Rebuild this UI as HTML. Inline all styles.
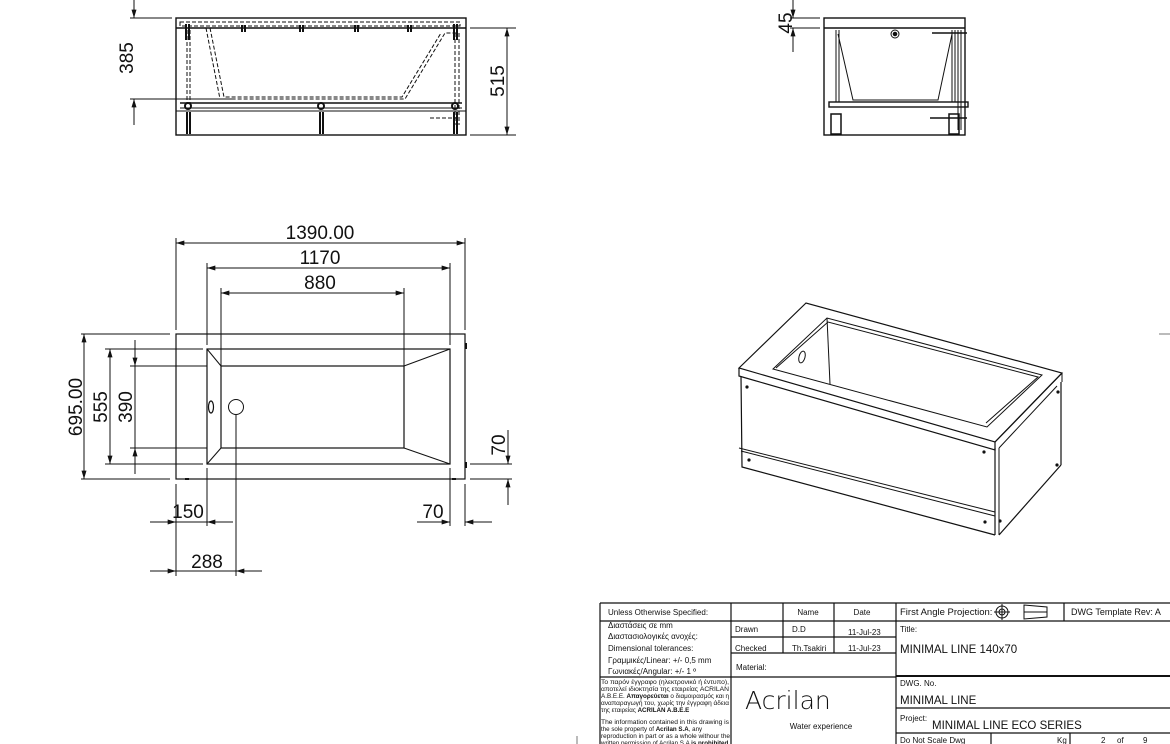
<!DOCTYPE html>
<html><head><meta charset="utf-8"><style>
html,body{margin:0;padding:0;background:#fff;width:1170px;height:744px;overflow:hidden}
svg{display:block}
text{font-family:"Liberation Sans","DejaVu Sans",sans-serif;fill:#111}
.d{font-size:19px}
.s{font-size:8px}
.t{font-size:6.2px}
.b{font-size:11.5px}
</style></head><body>
<svg width="1170" height="744" viewBox="0 0 1170 744" xmlns="http://www.w3.org/2000/svg">
<defs>
<marker id="a" viewBox="0 0 10 6" refX="10" refY="3" markerWidth="12" markerHeight="5" orient="auto-start-reverse" markerUnits="userSpaceOnUse"><path d="M0,0L10,3L0,6z" fill="#111"/></marker>
</defs>
<g stroke="#111" fill="none" stroke-width="1">
<rect x="176" y="18" width="290" height="117" stroke-width="1.4"/>
<line x1="176" y1="28" x2="466" y2="28" stroke-width="1.6"/>
<line x1="180" y1="103" x2="462" y2="103" stroke-width="1.4"/>
<line x1="180" y1="108" x2="462" y2="108"/>
<line x1="176" y1="111" x2="466" y2="111"/>
<g stroke-dasharray="4,2">
<path d="M180,22 H460 V26 H180z"/>
<path d="M206,28 L220,99 H405 L445,33 H458"/>
<path d="M210,28 L224,97 H402 L441,33"/>
<line x1="187" y1="30" x2="187" y2="103"/><line x1="190" y1="30" x2="190" y2="103"/>
<line x1="455" y1="33" x2="455" y2="125"/><line x1="459" y1="33" x2="459" y2="125"/>
<path d="M430,118 H458"/>
</g>
<g stroke-width="2">
<line x1="186" y1="24" x2="186" y2="40"/><line x1="189" y1="24" x2="189" y2="40"/>
<line x1="242" y1="25" x2="242" y2="32"/><line x1="245" y1="25" x2="245" y2="32"/>
<line x1="300" y1="25" x2="300" y2="32"/><line x1="303" y1="25" x2="303" y2="32"/>
<line x1="355" y1="25" x2="355" y2="32"/><line x1="358" y1="25" x2="358" y2="32"/>
<line x1="408" y1="25" x2="408" y2="32"/><line x1="411" y1="25" x2="411" y2="32"/>
<line x1="454" y1="24" x2="454" y2="40"/><line x1="457" y1="24" x2="457" y2="40"/>
<line x1="187" y1="112" x2="187" y2="134"/><line x1="190" y1="112" x2="190" y2="134"/>
<line x1="320" y1="112" x2="320" y2="134"/><line x1="323" y1="112" x2="323" y2="134"/>
<line x1="454" y1="112" x2="454" y2="134"/><line x1="457" y1="112" x2="457" y2="134"/>
</g>
<circle cx="188" cy="106" r="3" stroke-width="2"/><circle cx="321" cy="106" r="3" stroke-width="2"/><circle cx="455" cy="106" r="3" stroke-width="2"/>
<line x1="130" y1="18" x2="172" y2="18"/><line x1="130" y1="99" x2="235" y2="99"/>
<line x1="134" y1="0" x2="134" y2="18" marker-end="url(#a)"/>
<line x1="134" y1="125" x2="134" y2="99" marker-end="url(#a)"/>
<line x1="470" y1="28" x2="516" y2="28"/><line x1="470" y1="135" x2="516" y2="135"/>
<line x1="507" y1="28" x2="507" y2="135" marker-start="url(#a)" marker-end="url(#a)"/>

<rect x="824" y="18" width="141" height="117" stroke-width="1.4"/>
<line x1="824" y1="28" x2="965" y2="28" stroke-width="1.4"/>
<path d="M838,34 L853,100 H938 L952,34"/>
<rect x="829" y="102" width="139" height="5" stroke-width="1.4"/>
<line x1="836" y1="30" x2="836" y2="102"/><line x1="839" y1="30" x2="839" y2="102"/>
<line x1="952" y1="30" x2="952" y2="102"/><line x1="955" y1="30" x2="955" y2="102"/><line x1="958" y1="30" x2="958" y2="130"/><line x1="961" y1="30" x2="961" y2="130"/>
<line x1="932" y1="33" x2="967" y2="33" stroke-width="1.5"/><line x1="930" y1="118" x2="967" y2="118" stroke-width="1.5"/>
<rect x="831" y="114" width="10" height="20" stroke-width="1.5"/><rect x="949" y="114" width="10" height="20" stroke-width="1.5"/>
<circle cx="895" cy="34" r="4"/><circle cx="895" cy="34" r="1.8" fill="#111"/>
<line x1="790" y1="18" x2="820" y2="18"/><line x1="790" y1="28" x2="820" y2="28"/>
<line x1="793" y1="0" x2="793" y2="18" marker-end="url(#a)"/>
<line x1="793" y1="52" x2="793" y2="28" marker-end="url(#a)"/>

<rect x="176" y="334" width="289" height="145" stroke-width="1.2"/>
<rect x="207" y="349" width="243" height="115" stroke-width="1.2"/>
<rect x="221" y="366" width="183" height="82" stroke-width="1.2"/>
<line x1="207" y1="349" x2="221" y2="366"/><line x1="450" y1="349" x2="404" y2="366"/>
<line x1="207" y1="464" x2="221" y2="448"/><line x1="450" y1="464" x2="404" y2="448"/>
<circle cx="236" cy="407" r="7.5"/>
<ellipse cx="211" cy="407" rx="2.5" ry="6" stroke-width="1.2"/>
<line x1="236" y1="414" x2="236" y2="576"/>
<line x1="176" y1="238" x2="176" y2="330"/><line x1="465" y1="238" x2="465" y2="330"/>
<line x1="176" y1="484" x2="176" y2="576"/><line x1="465" y1="484" x2="465" y2="526"/>
<line x1="207" y1="263" x2="207" y2="345"/><line x1="450" y1="263" x2="450" y2="345"/>
<line x1="207" y1="468" x2="207" y2="526"/><line x1="450" y1="468" x2="450" y2="526"/>
<line x1="221" y1="288" x2="221" y2="366"/><line x1="404" y1="288" x2="404" y2="366"/>
<line x1="176" y1="243" x2="465" y2="243" marker-start="url(#a)" marker-end="url(#a)"/>
<line x1="207" y1="268" x2="450" y2="268" marker-start="url(#a)" marker-end="url(#a)"/>
<line x1="221" y1="293" x2="404" y2="293" marker-start="url(#a)" marker-end="url(#a)"/>
<line x1="81" y1="334" x2="170" y2="334"/><line x1="81" y1="479" x2="170" y2="479"/>
<line x1="105" y1="349" x2="203" y2="349"/><line x1="105" y1="464" x2="203" y2="464"/>
<line x1="130" y1="366" x2="207" y2="366"/><line x1="130" y1="448" x2="207" y2="448"/>
<line x1="84" y1="334" x2="84" y2="479" marker-start="url(#a)" marker-end="url(#a)"/>
<line x1="110" y1="349" x2="110" y2="464" marker-start="url(#a)" marker-end="url(#a)"/>
<line x1="135" y1="340" x2="135" y2="366" marker-end="url(#a)"/>
<line x1="135" y1="474" x2="135" y2="448" marker-end="url(#a)"/>
<line x1="135" y1="366" x2="135" y2="448"/>
<line x1="150" y1="522" x2="176" y2="522" marker-end="url(#a)"/>
<line x1="233" y1="522" x2="207" y2="522" marker-end="url(#a)"/>
<line x1="176" y1="522" x2="207" y2="522"/>
<line x1="150" y1="571" x2="176" y2="571" marker-end="url(#a)"/>
<line x1="262" y1="571" x2="236" y2="571" marker-end="url(#a)"/>
<line x1="176" y1="571" x2="236" y2="571"/>
<line x1="417" y1="522" x2="450" y2="522" marker-end="url(#a)"/>
<line x1="492" y1="522" x2="465" y2="522" marker-end="url(#a)"/>
<line x1="470" y1="464" x2="512" y2="464"/><line x1="470" y1="479" x2="512" y2="479"/>
<line x1="508" y1="430" x2="508" y2="464" marker-end="url(#a)"/>
<line x1="508" y1="505" x2="508" y2="479" marker-end="url(#a)"/>
<line x1="466" y1="343" x2="466" y2="349" stroke-width="2"/><line x1="466" y1="462" x2="466" y2="468" stroke-width="2"/>
<line x1="185" y1="479" x2="189" y2="479" stroke-width="2"/><line x1="452" y1="479" x2="456" y2="479" stroke-width="2"/>

<path d="M739,368 L806,303 L1062,373 L995,442 Z" stroke-width="1.2"/>
<path d="M773,369 L827,318 L1042,375 L987,427 Z"/>
<path d="M776,368 L828,322 L1038,377 L986,423"/>
<line x1="827" y1="318" x2="830" y2="384"/>
<path d="M739,368 L739,376 L995,450 L995,442" stroke-width="1.2"/>
<line x1="995" y1="442" x2="1062" y2="373" stroke-width="1.2"/>
<line x1="1062" y1="373" x2="1062" y2="382"/>
<path d="M741,376 L742,467 L995,535" stroke-width="1.2"/>
<line x1="739" y1="448" x2="995" y2="512"/>
<line x1="741" y1="451" x2="995" y2="516"/>
<line x1="995" y1="448" x2="995" y2="535" stroke-width="1.2"/>
<line x1="999" y1="448" x2="999" y2="535"/>
<line x1="1061" y1="382" x2="1061" y2="465" stroke-width="1.2"/>
<line x1="1061" y1="465" x2="999" y2="535" stroke-width="1.2"/>
<line x1="1057" y1="386" x2="999" y2="448"/>
<ellipse cx="802" cy="357" rx="3" ry="6" transform="rotate(15 802 357)"/>
<g fill="#111" stroke="none">
<circle cx="747" cy="387" r="1.6"/><circle cx="984" cy="452" r="1.6"/><circle cx="749" cy="460" r="1.6"/><circle cx="985" cy="522" r="1.6"/>
<circle cx="1058" cy="392" r="1.6"/><circle cx="1057" cy="465" r="1.6"/><circle cx="1000" cy="521" r="1.6"/>
</g>
<line x1="1159" y1="334" x2="1170" y2="334" stroke="#777"/>
<line x1="577" y1="736" x2="577" y2="744" stroke="#777"/>

<g stroke-width="1.2">
<line x1="600" y1="603" x2="1170" y2="603"/>
<line x1="600" y1="621" x2="1170" y2="621"/>
<line x1="731" y1="637" x2="896" y2="637"/>
<line x1="731" y1="653" x2="896" y2="653"/>
<line x1="600" y1="677" x2="896" y2="677"/>
<line x1="896" y1="676" x2="1170" y2="676" stroke-width="2"/>
<line x1="896" y1="708" x2="1170" y2="708"/>
<line x1="896" y1="733" x2="1170" y2="733"/>
<line x1="600" y1="603" x2="600" y2="744"/>
<line x1="731" y1="603" x2="731" y2="744"/>
<line x1="783" y1="603" x2="783" y2="653"/>
<line x1="834" y1="603" x2="834" y2="653"/>
<line x1="896" y1="603" x2="896" y2="744"/>
<line x1="1064" y1="603" x2="1064" y2="621"/>
<line x1="991" y1="733" x2="991" y2="744"/>
<line x1="1070" y1="733" x2="1070" y2="744"/>
</g>
<circle cx="1002" cy="612" r="6"/><circle cx="1002" cy="612" r="3"/>
<line x1="994" y1="612" x2="1010" y2="612"/><line x1="1002" y1="604" x2="1002" y2="620"/>
<path d="M1024,605 L1047,607 L1047,617 L1024,619 Z"/><line x1="1024" y1="612" x2="1047" y2="612"/>
</g>

<text class="d" transform="translate(133,58) rotate(-90)" text-anchor="middle">385</text>
<text class="d" transform="translate(504,81) rotate(-90)" text-anchor="middle">515</text>
<text class="d" transform="translate(792,23) rotate(-90)" text-anchor="middle">45</text>
<text class="d" x="320" y="239" text-anchor="middle">1390.00</text>
<text class="d" x="320" y="264" text-anchor="middle">1170</text>
<text class="d" x="320" y="289" text-anchor="middle">880</text>
<text class="d" transform="translate(82,407) rotate(-90)" text-anchor="middle">695.00</text>
<text class="d" transform="translate(107,407) rotate(-90)" text-anchor="middle">555</text>
<text class="d" transform="translate(132,407) rotate(-90)" text-anchor="middle">390</text>
<text class="d" transform="translate(505,445) rotate(-90)" text-anchor="middle">70</text>
<text class="d" x="188" y="518" text-anchor="middle">150</text>
<text class="d" x="207" y="568" text-anchor="middle">288</text>
<text class="d" x="433" y="518" text-anchor="middle">70</text>

<text class="s" x="608" y="615">Unless Otherwise Specified:</text>
<text class="s" x="808" y="615" text-anchor="middle">Name</text>
<text class="s" x="862" y="615" text-anchor="middle">Date</text>
<text class="s" x="608" y="628">Διαστάσεις σε mm</text>
<text class="s" x="608" y="639">Διαστασιολογικές ανοχές:</text>
<text class="s" x="608" y="651">Dimensional tolerances:</text>
<text class="s" x="608" y="663">Γραμμικές/Linear: +/- 0,5 mm</text>
<text class="s" x="608" y="674">Γωνιακές/Angular: +/- 1 º</text>
<text class="s" x="735" y="632">Drawn</text>
<text class="s" x="792" y="632">D.D</text>
<text class="s" x="848" y="635">11-Jul-23</text>
<text class="s" x="735" y="651">Checked</text>
<text class="s" x="792" y="651">Th.Tsakiri</text>
<text class="s" x="848" y="651">11-Jul-23</text>
<text class="s" x="736" y="670">Material:</text>
<text class="t" x="601" y="684" textLength="128" lengthAdjust="spacingAndGlyphs">Το παρόν έγγραφο (ηλεκτρονικό ή έντυπο),</text>
<text class="t" x="601" y="691" textLength="128" lengthAdjust="spacingAndGlyphs">αποτελεί ιδιοκτησία της εταιρείας ACRILAN</text>
<text class="t" x="601" y="698" textLength="128" lengthAdjust="spacingAndGlyphs">A.B.E.E. <tspan font-weight="bold">Απαγορεύεται</tspan> ο διαμοιρασμός και η</text>
<text class="t" x="601" y="705" textLength="128" lengthAdjust="spacingAndGlyphs">αναπαραγωγή του, χωρίς την έγγραφη άδεια</text>
<text class="t" x="601" y="712">της εταιρείας <tspan font-weight="bold">ACRILAN A.B.E.E</tspan></text>
<text class="t" x="601" y="724" textLength="128" lengthAdjust="spacingAndGlyphs">The information contained in this drawing is</text>
<text class="t" x="601" y="731">the sole property of <tspan font-weight="bold">Acrilan S.A</tspan>, any</text>
<text class="t" x="601" y="738" textLength="129" lengthAdjust="spacingAndGlyphs">reproduction in part or as a whole withour the</text>
<text class="t" x="601" y="745" textLength="129" lengthAdjust="spacingAndGlyphs">written permission of Acrilan S.A <tspan font-weight="bold">is prohibited</tspan>.</text>
<text x="745" y="709" style="font-size:25px;font-family:'DejaVu Sans','Liberation Sans',sans-serif;font-weight:200">Acrilan</text>
<text class="s" x="821" y="729" text-anchor="middle">Water experience</text>
<text style="font-size:9.5px" x="900" y="615">First Angle Projection:</text>
<text style="font-size:9px" x="1071" y="615">DWG Template Rev: A</text>
<text class="s" x="900" y="632">Title:</text>
<text class="b" x="900" y="653">MINIMAL LINE 140x70</text>
<text class="s" x="900" y="686">DWG. No.</text>
<text class="b" x="900" y="704">MINIMAL LINE</text>
<text class="s" x="900" y="721">Project:</text>
<text class="b" x="932" y="729">MINIMAL LINE ECO SERIES</text>
<text class="s" x="900" y="743">Do Not Scale Dwg</text>
<text class="s" x="1057" y="743">Kg</text>
<text class="s" x="1101" y="743">2</text>
<text class="s" x="1117" y="743">of</text>
<text class="s" x="1143" y="743">9</text>
</svg>
</body></html>
